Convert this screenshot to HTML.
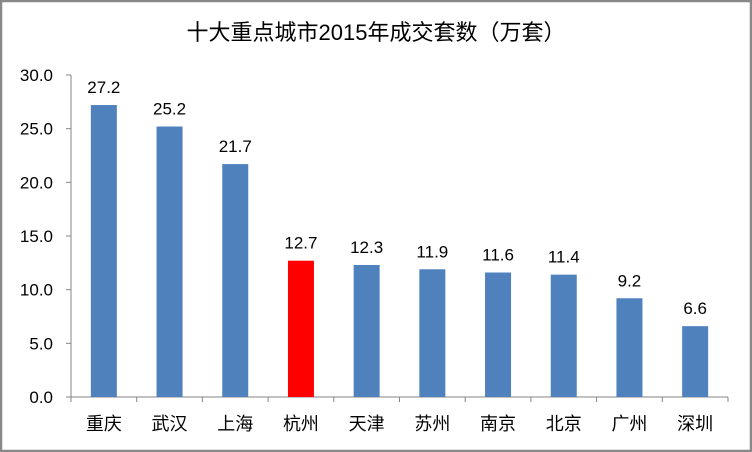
<!DOCTYPE html>
<html><head><meta charset="utf-8"><style>
html,body{margin:0;padding:0;background:#fff;}
svg{display:block;font-family:"Liberation Sans","Noto Sans CJK SC",sans-serif;}
</style></head><body>
<svg id="chart" width="752" height="452" viewBox="0 0 752 452" xmlns="http://www.w3.org/2000/svg">
<rect x="1" y="1" width="750" height="450" fill="#fff" stroke="#888" stroke-width="2.5"/>
<text x="376" y="40" text-anchor="middle" font-size="22" fill="#000">十大重点城市2015年成交套数（万套）</text>
<g id="axes"></g><g id="bars"></g>
</svg>
<script>
const categories = ["重庆","武汉","上海","杭州","天津","苏州","南京","北京","广州","深圳"];
const values = [27.2,25.2,21.7,12.7,12.3,11.9,11.6,11.4,9.2,6.6];
const highlight = ["杭州"];
const yTicks = [0,5,10,15,20,25,30];
const NS="http://www.w3.org/2000/svg";
const x0=71,x1=728,yBase=397,yTop=75,yMax=30;
const step=(x1-x0)/categories.length;
const y=v=>yBase-(v/yMax)*(yBase-yTop);
const xc=i=>x0+step*(i+0.5);
function mk(tag,attrs,parent){const e=document.createElementNS(NS,tag);for(const k in attrs)e.setAttribute(k,attrs[k]);parent.appendChild(e);return e;}
const axes=document.getElementById('axes'),bars=document.getElementById('bars');
let ax=mk('line',{x1:x0,y1:yTop,x2:x0,y2:yBase,stroke:'#868686','stroke-width':1},axes);


let bx=mk('line',{x1:x0,y1:yBase,x2:x1,y2:yBase,stroke:'#868686','stroke-width':1},axes);


yTicks.forEach(t=>{
  const tk=mk('line',{x1:x0-5,y1:y(t),x2:x0,y2:y(t),stroke:'#868686'},axes);
  
  
  const tl=mk('text',{x:x0-18,y:y(t)+6,'text-anchor':'end','font-size':17,fill:'#000'},axes);
  tl.textContent=t.toFixed(1);
  
  
});
for(let i=0;i<=categories.length;i++){
  const tk=mk('line',{x1:x0+step*i,y1:yBase,x2:x0+step*i,y2:yBase+5,stroke:'#868686'},axes);
  
  
}
const bw=26;
categories.forEach((c,i)=>{
  const v=values[i];
  const r=mk('rect',{x:xc(i)-bw/2,y:y(v),width:bw,height:yBase-y(v),fill:highlight.includes(c)?'#ff0000':'#4f81bd'},bars);
  
  
  const l=mk('text',{x:xc(i),y:y(v)-12,'text-anchor':'middle','font-size':17,fill:'#000'},bars);
  l.textContent=v.toFixed(1);
  
  
  const cl=mk('text',{x:xc(i),y:yBase+33,'text-anchor':'middle','font-size':18,fill:'#000'},bars);
  cl.textContent=c;
  
  
});
</script>
</body></html>
